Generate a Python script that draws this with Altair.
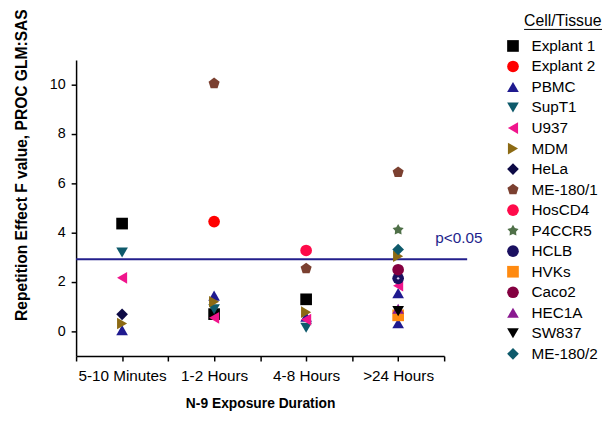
import altair as alt
import pandas as pd

# ---- legend / series definitions ----
cells = ["Explant 1", "Explant 2", "PBMC", "SupT1", "U937", "MDM", "HeLa",
         "ME-180/1", "HosCD4", "P4CCR5", "HCLB", "HVKs", "Caco2", "HEC1A",
         "SW837", "ME-180/2"]
colors = ["#000000", "#FF0000", "#1F1A8F", "#0E5A6B", "#F0158C", "#8C6A14",
          "#0D0A45", "#7B4030", "#FF0A4A", "#4F7048", "#1A1060", "#FF8A10",
          "#840040", "#8A1A90", "#000000", "#0E5A6B"]
PENTAGON = "M0,-1L0.95,-0.31L0.59,0.81L-0.59,0.81L-0.95,-0.31Z"
STAR = ("M0,-1L0.32,-0.445L0.951,-0.309L0.523,0.17L0.588,0.809L0,0.55"
        "L-0.588,0.809L-0.523,0.17L-0.951,-0.309L-0.32,-0.445Z")
shapes = ["square", "circle", "triangle-up", "triangle-down", "triangle-left",
          "triangle-right", "diamond", PENTAGON, "circle", STAR, "circle",
          "square", "circle", "triangle-up", "triangle-down", "diamond"]

# ---- x categories ----
durations = ["5-10 Minutes", "1-2 Hours", "4-8 Hours", ">24 Hours"]
duration_code = [1, 3, 5, 7]

# ---- observations ----
pt_duration = (["5-10 Minutes"] * 6 + ["1-2 Hours"] * 7 + ["4-8 Hours"] * 7
               + [">24 Hours"] * 12)
pt_cell = ["Explant 1", "SupT1", "U937", "HeLa", "MDM", "PBMC",
           "ME-180/1", "Explant 2", "PBMC", "MDM", "SupT1", "Explant 1", "U937",
           "HosCD4", "ME-180/1", "Explant 1", "MDM", "PBMC", "U937", "SupT1",
           "ME-180/1", "P4CCR5", "ME-180/2", "MDM", "Caco2", "HCLB", "U937",
           "PBMC", "HEC1A", "SW837", "HVKs", "PBMC"]
pt_f = [4.37, 3.2, 2.17, 0.69, 0.32, 0.05,
        10.05, 4.45, 1.45, 1.2, 0.9, 0.7, 0.55,
        3.28, 2.55, 1.3, 0.78, 0.6, 0.48, 0.15,
        6.45, 4.12, 3.32, 3.05, 2.5, 2.15, 1.85, 1.55, 0.92, 0.82, 0.65, 0.33]

f_crit = 2.92
sig_label = "p<0.05"

navy = "#231F8C"
FONT = "Liberation Sans"

df = pd.DataFrame({
    "cell": pt_cell,
    "duration": pt_duration,
    "f": pt_f,
})
df["x"] = [duration_code[durations.index(d)] for d in df["duration"]]
df["ord"] = [cells.index(c) for c in df["cell"]]
df = df.sort_values("ord", kind="stable")

label_expr = " : ".join(
    f"datum.value == {c} ? '{d}'" for c, d in zip(duration_code, durations)
) + " : ''"

xscale = alt.Scale(domain=[0, 8], nice=False, zero=False)
yscale = alt.Scale(domain=[-1, 11], nice=False, zero=False)

x_axis = alt.Axis(
    values=list(range(0, 9)), labelExpr=label_expr, title="N-9 Exposure Duration",
    grid=False, domainColor="black", domainWidth=1.5, tickColor="black",
    tickWidth=1.5, tickSize=5, labelFontSize=15.5, labelFont=FONT,
    labelColor="black", labelPadding=8, titleFont=FONT, titleFontSize=14,
    titleFontWeight="bold", titleColor="black", titlePadding=13,
    labelOverlap=False, labelFlush=False,
)
y_axis = alt.Axis(
    values=list(range(0, 11)),
    labelExpr="datum.value % 2 == 0 ? datum.value : ''",
    title="Repetition Effect F value, PROC GLM:SAS", grid=False,
    domainColor="black", domainWidth=1.5, tickColor="black", tickWidth=1.5,
    tickSize=5, labelFontSize=14.5, labelFont=FONT, labelColor="black",
    labelPadding=6, titleFont=FONT, titleFontSize=15.8, titleFontWeight="bold",
    titleColor="black", titleY=106, titleX=-55, titleBaseline="middle",
    titleAlign="center", labelOverlap=False,
)

points = alt.Chart(df).mark_point(filled=True, size=140, opacity=1,
                                   strokeWidth=0).encode(
    x=alt.X("x:Q", scale=xscale, axis=x_axis),
    y=alt.Y("f:Q", scale=yscale, axis=y_axis),
    color=alt.Color("cell:N", scale=alt.Scale(domain=cells, range=colors),
                    legend=alt.Legend(title=None)),
    shape=alt.Shape("cell:N", scale=alt.Scale(domain=cells, range=shapes),
                    legend=alt.Legend(title=None)),
    order=alt.Order("ord:Q"),
)

hclb_dot = alt.Chart(df[df["cell"] == "HCLB"]).mark_point(
    filled=True, size=6, color="#d8d0f0", opacity=1, shape="circle").encode(
    x=alt.X("x:Q", scale=xscale), y=alt.Y("f:Q", scale=yscale))

rule_df = pd.DataFrame({"x": [0], "x2": [8.5], "y": [f_crit]})
rule = alt.Chart(rule_df).mark_rule(color=navy, strokeWidth=2, clip=False).encode(
    x=alt.X("x:Q", scale=xscale), x2="x2:Q", y=alt.Y("y:Q", scale=yscale))

sig_df = pd.DataFrame({"x": [8.32], "y": [3.8], "t": [sig_label]})
sig = alt.Chart(sig_df).mark_text(color=navy, fontSize=15.5, font=FONT,
                                  align="center", baseline="middle").encode(
    x=alt.X("x:Q", scale=xscale), y=alt.Y("y:Q", scale=yscale), text="t:N")

title_df = pd.DataFrame({"t": ["Cell/Tissue"]})
leg_title = alt.Chart(title_df).mark_text(
    fontSize=16, font=FONT, align="left", baseline="alphabetic",
    color="black").encode(x=alt.value(454), y=alt.value(-34), text="t:N")
leg_line = alt.Chart(title_df).mark_rule(color="black", strokeWidth=1).encode(
    x=alt.value(454), x2=alt.value(533), y=alt.value(-31))

chart = alt.layer(rule, points, hclb_dot, sig, leg_title, leg_line).properties(
    width=373, height=300,
    autosize=alt.AutoSizeParams(type="none"),
    padding={"left": 69, "top": 50, "right": 163, "bottom": 56},
    background="white",
).configure_view(stroke=None).configure_legend(
    orient="none", legendX=435, legendY=-22, padding=0,
    labelFont=FONT, labelFontSize=15.5, labelColor="black",
    labelOffset=11, rowPadding=3.8, symbolSize=140, symbolStrokeWidth=0,
    symbolOpacity=1,
)

chart.save("out.html", embed_options={"renderer": "svg", "actions": False})
